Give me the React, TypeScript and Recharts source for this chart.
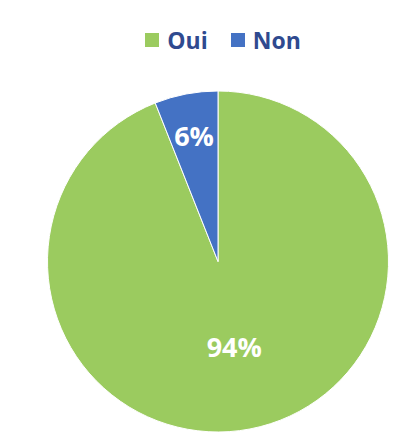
import { PieChart, Pie, Cell } from "recharts";

const categories = ["Oui", "Non"];
const shares = [94, 6];
const colors = ["#9BCB5F", "#4472C4"];

const data = categories.map((name, i) => ({ name, value: shares[i] }));

const RAD = Math.PI / 180;

// Excel-like "best fit" placement: big slice label nearer the centre
function renderLabel(props: any) {
  const { cx, cy, midAngle, outerRadius, index, value } = props;
  const r = outerRadius * (index === 0 ? 0.51 : 0.75);
  const x = cx + r * Math.cos(-midAngle * RAD);
  const y = cy + r * Math.sin(-midAngle * RAD);
  return (
    <text
      x={x}
      y={y}
      fill="#fff"
      textAnchor="middle"
      dominantBaseline="central"
      fontFamily="'Open Sans', sans-serif"
      fontWeight={700}
      fontSize={27}
    >
      {value}%
    </text>
  );
}

function ChartLegend() {
  return (
    <div
      style={{
        position: "absolute",
        top: 24,
        left: 16,
        width: 414,
        display: "flex",
        justifyContent: "center",
        alignItems: "center",
        gap: 23,
        fontFamily: "'Open Sans', sans-serif",
        fontWeight: 700,
        fontSize: 23,
        lineHeight: "32px",
        color: "#2F4A8F",
      }}
    >
      {categories.map((c, i) => (
        <div key={c} style={{ display: "flex", alignItems: "center", gap: 8 }}>
          <span style={{ width: 14, height: 14, background: colors[i], display: "inline-block" }} />
          <span>{c}</span>
        </div>
      ))}
    </div>
  );
}

export default function App() {
  return (
    <div style={{ position: "absolute", left: 0, top: 0, width: 414, height: 442, background: "#fff" }}>
      <PieChart width={414} height={442} margin={{ top: 0, right: 0, bottom: 0, left: 0 }}>
        <Pie
          data={data}
          dataKey="value"
          nameKey="name"
          cx={218}
          cy={261.5}
          outerRadius={170.5}
          startAngle={90}
          endAngle={-270}
          stroke="#fff"
          strokeWidth={1}
          label={renderLabel}
          labelLine={false}
          isAnimationActive={false}
        >
          {data.map((d, i) => (
            <Cell key={d.name} fill={colors[i]} />
          ))}
        </Pie>
      </PieChart>
      <ChartLegend />
    </div>
  );
}
